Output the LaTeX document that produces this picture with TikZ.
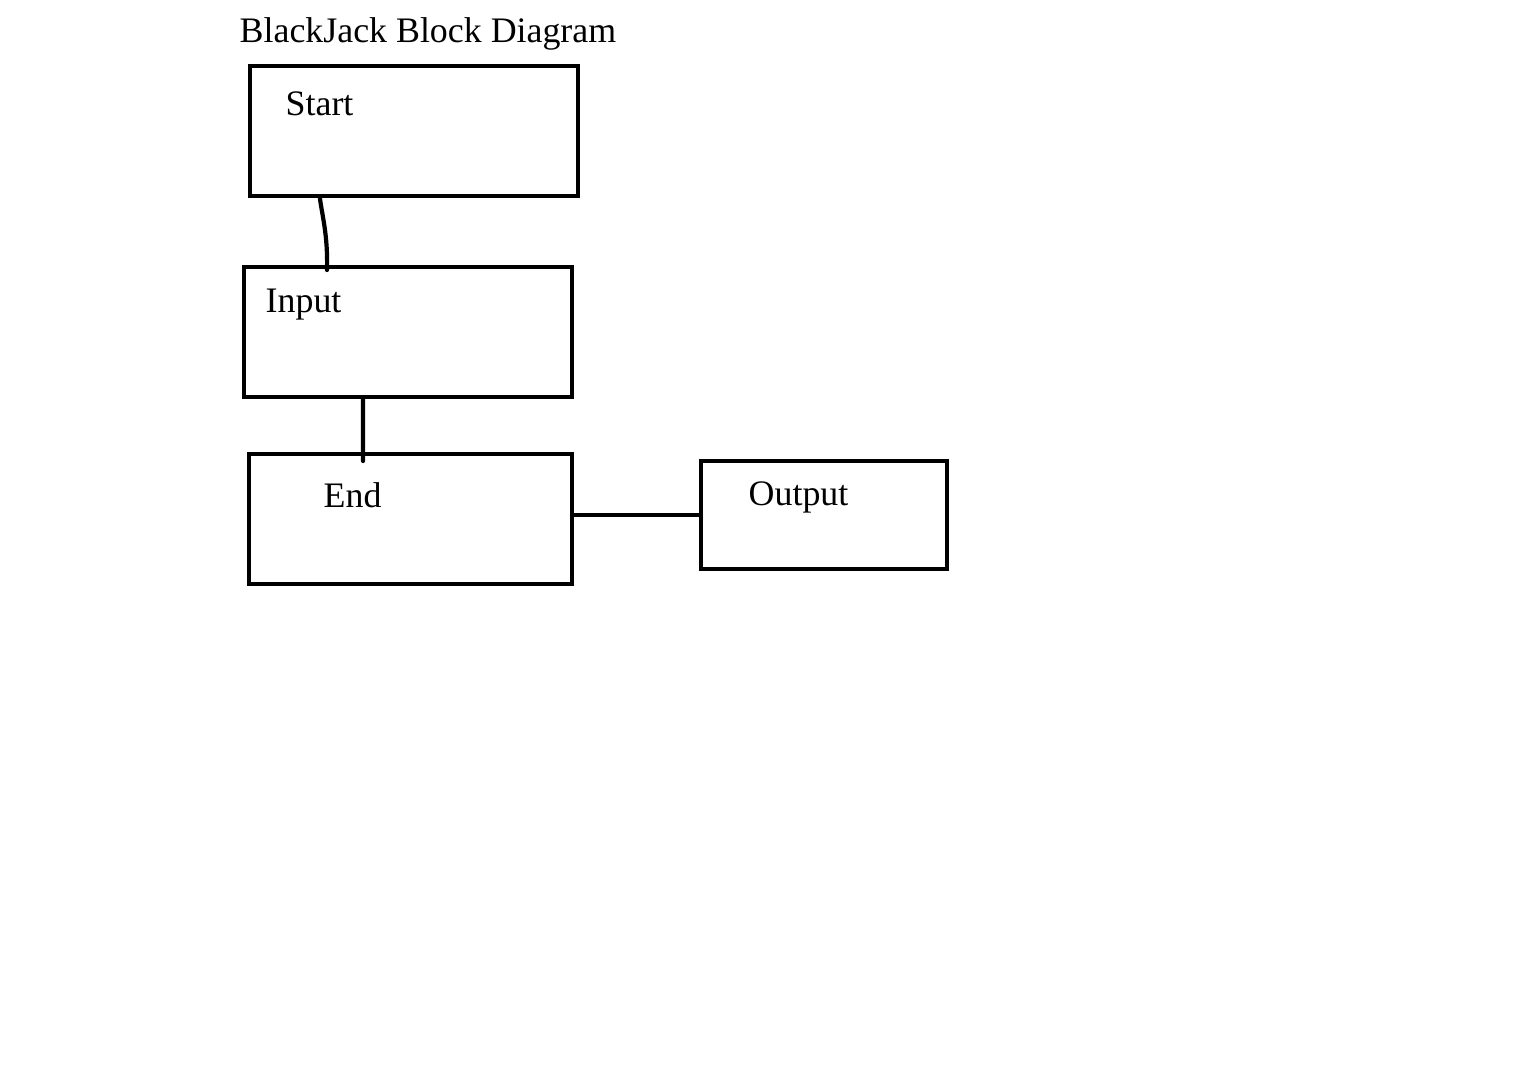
\documentclass[tikz,border=0pt]{standalone}
\usepackage{fontspec}
\setmainfont{Liberation Serif}
\begin{document}
\begin{tikzpicture}[x=0.01cm,y=-0.01cm,
  blk/.style={draw=black,line width=0.042cm,rectangle,inner sep=0pt,outer sep=0pt},
  lbl/.style={inner sep=0pt,anchor=base west,font=\fontsize{10.2pt}{12pt}\selectfont},
  conn/.style={line width=0.042cm,line cap=round}]
\useasboundingbox[fill=white] (0,0) rectangle (1514,1084);
\node[lbl] (title) at (239,42) {BlackJack Block Diagram};
\node[blk,minimum width=3.28cm,minimum height=1.30cm] (start) at (414,131) {};
\node[blk,minimum width=3.28cm,minimum height=1.30cm] (input) at (408,332) {};
\node[blk,minimum width=3.23cm,minimum height=1.30cm] (end) at (410.5,519) {};
\node[blk,minimum width=2.46cm,minimum height=1.08cm] (output) at (824,515) {};
\node[lbl] (tstart) at (285,115) {Start};
\node[lbl] (tinput) at (265,312) {Input};
\node[lbl] (tend) at (323,507) {End};
\node[lbl] (toutput) at (748,505) {Output};
\draw[conn] (start.south west) ++(70,2) coordinate (a1) .. controls (322,215) and (328,235) .. (327,270);
\draw[conn] (input.south west) ++(119,0) coordinate (b1) -- (363,461);
\draw[conn] (output.west -| end.east) -- (output.west);
\end{tikzpicture}
\end{document}
